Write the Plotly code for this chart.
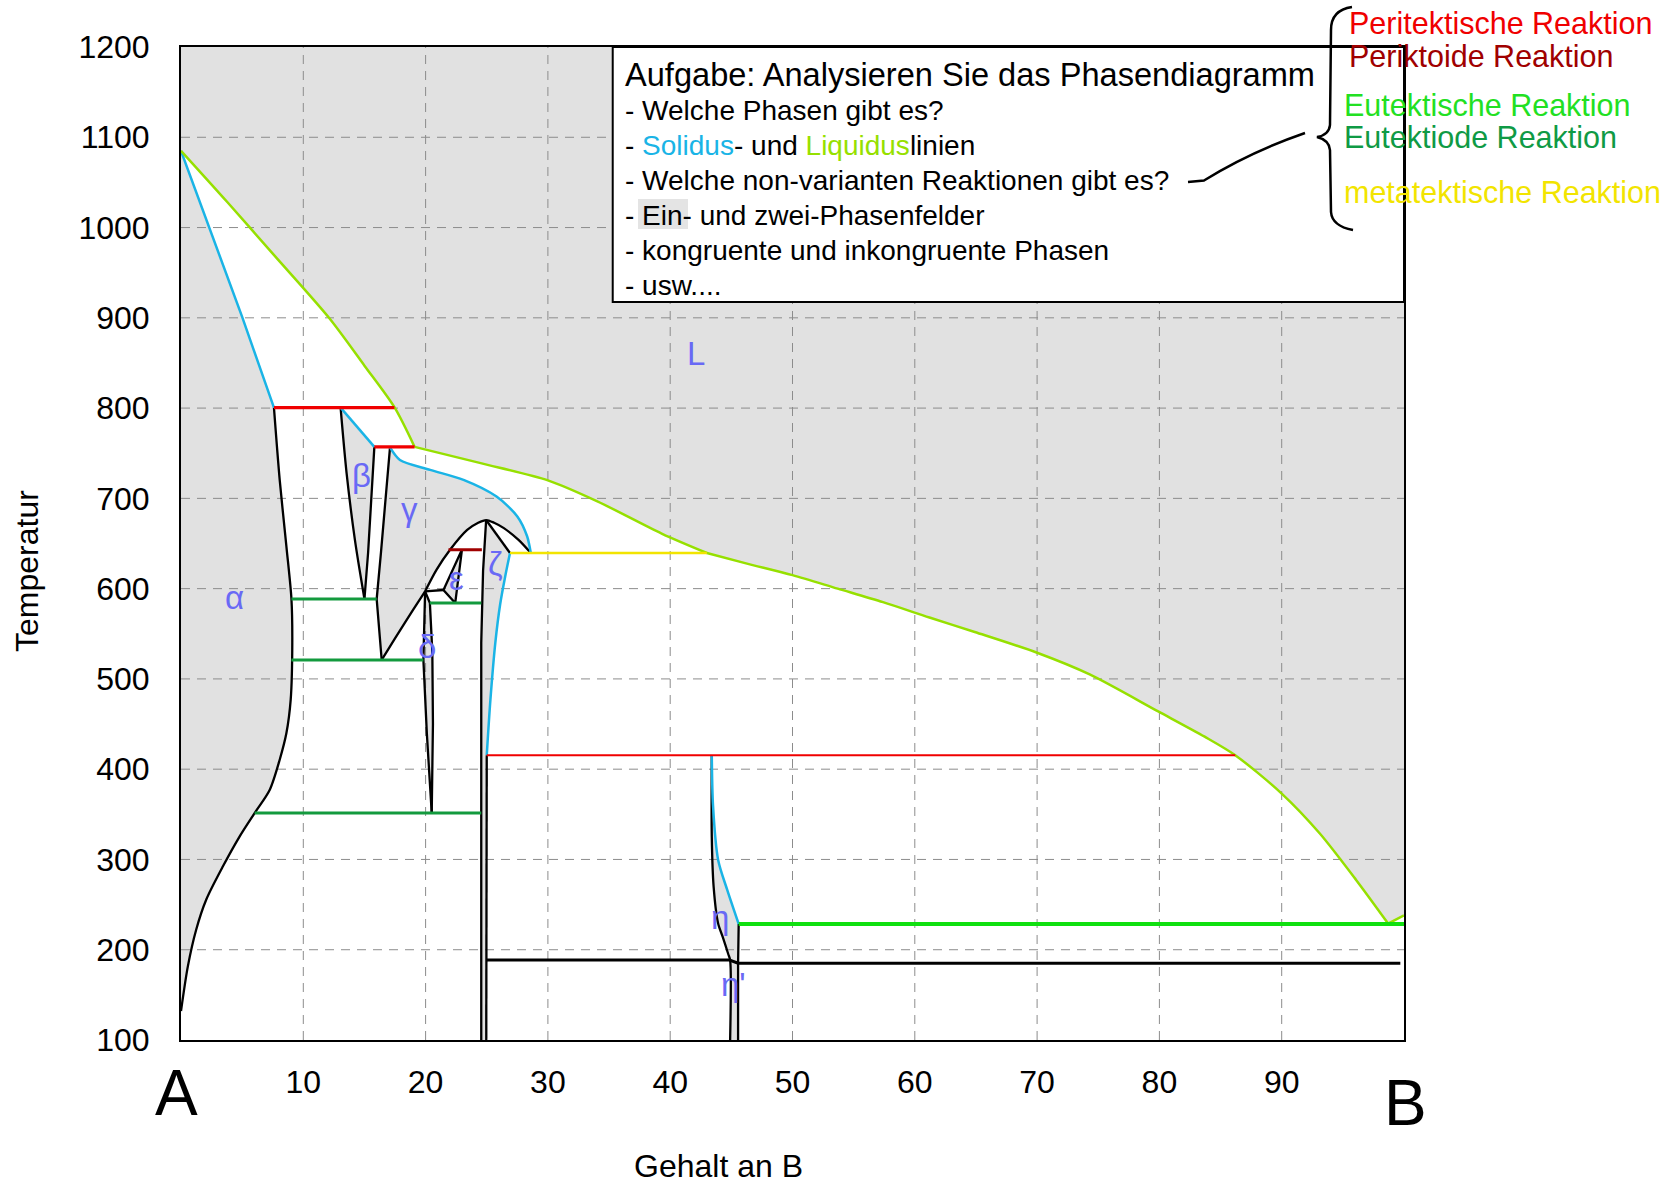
import plotly.graph_objects as go

# ------------------------------------------------------------------ data
x_ticks = [10, 20, 30, 40, 50, 60, 70, 80, 90]
y_ticks = [100, 200, 300, 400, 500, 600, 700, 800, 900, 1000, 1100, 1200]

# liquidus (A side -> metatectic point) and (metatectic point -> B)
liq_a_x = [0.0, 3.8, 7.7, 12.1, 15.0, 17.45, 19.1, 24.5, 30.0, 34.0, 39.3, 43.0]
liq_a_T = [1085, 1028, 968, 900, 847, 801, 757, 739, 720, 697, 661, 639.5]
liq_b_x = [43.0, 46.2, 50.0, 53.7, 57.4, 61.2, 64.9, 70.0, 74.3, 79.9, 83.7, 86.2, 90.0, 93.1, 96.1, 98.7]
liq_b_T = [639.5, 628, 615, 600, 585, 568, 552, 529, 505, 464, 436, 415.5, 373, 329, 277, 229]
liq_B_x = [98.7, 100.0]
liq_B_T = [229, 238]

# solidus lines
sol_alpha_x = [0.0, 2.1, 5.0, 7.6]
sol_alpha_T = [1085, 1008, 901, 800.5]
sol_beta_x = [13.05, 15.81]
sol_beta_T = [800.5, 757]
sol_gamma_x = [17.09, 17.9, 20.37, 23.1, 25.8, 27.5, 28.3, 28.6]
sol_gamma_T = [756.5, 742.6, 731.6, 720.5, 702, 680, 658, 639.5]
sol_zeta_x = [26.9, 26.5, 26.1, 25.7, 25.3, 25.0]
sol_zeta_T = [639.5, 613, 583, 540, 477, 415.5]
sol_eta_x = [43.4, 43.5, 43.92, 44.67, 45.6]
sol_eta_T = [415.5, 360, 299.5, 266, 228.5]

# phase boundaries (black)
alpha_x = [7.6, 8.07, 8.62, 9.03, 9.1, 8.97, 8.62, 8.07, 7.25, 6.02, 4.8, 3.43, 2.06, 1.24, 0.56, 0.0]
alpha_T = [800.5, 720.5, 646.6, 588.5, 540, 477, 440, 410.5, 377, 351.4, 325.6, 292.4, 255.4, 222.2, 181.6, 132]
beta_l_x = [13.05, 13.54, 14.22, 15.0]
beta_l_T = [800.5, 728, 654, 588.5]
beta_r_x = [15.81, 15.55, 15.3, 15.0]
beta_r_T = [757, 700, 640, 588.5]
gamma_l_x = [17.09, 16.75, 16.35, 16.0, 16.41]
gamma_l_T = [756.5, 700, 640, 588.5, 521]
gamma_low_x = [16.41, 17.64, 19.0, 19.96]
gamma_low_T = [521, 548, 577, 597]
dome_x = [19.96, 20.9, 22.0, 23.4, 24.3, 24.95, 25.6, 26.4, 27.6, 28.6]
dome_T = [597, 621, 643, 665, 673, 676, 673, 667, 654, 639.5]
delta_l_x = [19.96, 19.82, 20.1, 20.5]
delta_l_T = [597, 521, 440, 351.4]
delta_r_x = [19.96, 20.35, 20.55, 20.6, 20.5]
delta_r_T = [597, 584, 530, 450, 351.4]
eps_x = [22.97, 21.46, 22.42, 22.97]
eps_T = [643, 598.5, 584, 643]
delta_eps_x = [19.96, 21.46]
delta_eps_T = [597, 598.5]
zeta_l_x = [24.95, 24.7, 24.55, 24.55]
zeta_l_T = [676, 620, 540, 100]
zeta_ru_x = [24.95, 26.9]
zeta_ru_T = [676, 639.5]
zeta_rl_x = [25.0, 24.96]
zeta_rl_T = [415.5, 100]
eta_l_x = [43.4, 43.4, 43.55, 43.92, 44.3, 44.75, 44.9, 44.9]
eta_l_T = [415.5, 325, 270, 229, 214, 195, 188.5, 100]
eta_r_x = [45.6, 45.55, 45.55]
eta_r_T = [228.5, 185, 100]
trans_x = [24.96, 44.85, 45.55, 99.7]
trans_T = [188.5, 188.5, 185, 185]

# invariant reactions (x0, x1, T)
peritectic = [(7.6, 17.45, 800.5), (15.81, 19.1, 757)]
peritectic_low = [(25.0, 86.2, 415.5)]
peritectoid = [(21.87, 24.6, 643)]
metatectic = [(26.9, 43.0, 639.5)]
eutectoid = [(9.03, 16.0, 588.5), (20.35, 24.55, 584), (9.03, 19.82, 521), (6.02, 24.55, 351.4)]
eutectic = [(45.6, 100.0, 228.5)]

# phase labels
phase_names = ["α", "β", "γ", "δ", "ε", "ζ", "L", "η", "η'"]
phase_x = [4.4, 14.75, 18.7, 20.1, 22.55, 25.7, 42.1, 44.1, 45.2]
phase_T = [590, 725, 688, 536, 611, 628, 860, 236, 162]

task_lines = [
    "- Welche Phasen gibt es?",
    "- <span style='color:#1ab4e6'>Solidus</span>- und <span style='color:#96e000'>Liquidus</span>linien",
    "- Welche non-varianten Reaktionen gibt es?",
    "- Ein- und zwei-Phasenfelder",
    "- kongruente und inkongruente Phasen",
    "- usw....",
]
reaction_names = ["Peritektische Reaktion", "Periktoide Reaktion", "Eutektische Reaktion",
                  "Eutektiode Reaktion", "metatektische Reaktion"]

# ------------------------------------------------------------------ styles
GREY = "rgb(225,225,225)"
CYAN = "#1ab4e6"
LIME = "#96e000"
RED = "#f00000"
DRED = "#a00000"
DGREEN = "#139a3e"
BGREEN = "#10e010"
YELLOW = "#f2e400"
LABEL = "rgb(105,105,245)"
FONT = "Liberation Sans, Arial, sans-serif"

W_FIG, H_FIG = 1674, 1183
ML, MR, MT, MB = 181, 270, 47, 143
PW = W_FIG - ML - MR
PH = H_FIG - MT - MB


def pxx(x):
    return (x - ML) / PW


def pxy(y):
    return (H_FIG - MB - y) / PH


fig = go.Figure()


def fill(xs, ys):
    fig.add_trace(go.Scatter(x=xs, y=ys, mode="lines", fill="toself", fillcolor=GREY,
                             line=dict(width=0), hoverinfo="skip", showlegend=False))


def line(xs, ys, color="black", width=2.3, smooth=False):
    fig.add_trace(go.Scatter(x=xs, y=ys, mode="lines",
                             line=dict(color=color, width=width, shape="spline" if smooth else "linear",
                                       smoothing=0.8),
                             hoverinfo="skip", showlegend=False))


# single-phase fields (grey)
fill([0] + liq_a_x + liq_b_x[1:] + liq_B_x[1:] + [100, 0],
     [1200] + liq_a_T + liq_b_T[1:] + liq_B_T[1:] + [1200, 1200])
fill(sol_alpha_x + alpha_x[1:], sol_alpha_T + alpha_T[1:])
fill(beta_l_x + beta_r_x[::-1] + sol_beta_x[::-1], beta_l_T + beta_r_T[::-1] + sol_beta_T[::-1])
fill(sol_gamma_x + dome_x[::-1] + gamma_low_x[::-1] + gamma_l_x[::-1],
     sol_gamma_T + dome_T[::-1] + gamma_low_T[::-1] + gamma_l_T[::-1])
fill(delta_l_x + delta_r_x[::-1], delta_l_T + delta_r_T[::-1])
fill(eps_x, eps_T)
fill(zeta_ru_x + sol_zeta_x + zeta_rl_x + zeta_l_x[::-1],
     zeta_ru_T + sol_zeta_T + zeta_rl_T + zeta_l_T[::-1])
fill(eta_l_x + eta_r_x[::-1] + sol_eta_x[::-1], eta_l_T + eta_r_T[::-1] + sol_eta_T[::-1])

# grid (dashed) drawn above the fills
gx, gy = [], []
for v in x_ticks:
    gx += [v, v, None]
    gy += [y_ticks[0], y_ticks[-1], None]
for v in y_ticks[1:-1]:
    gx += [0, 100, None]
    gy += [v, v, None]
fig.add_trace(go.Scatter(x=gx, y=gy, mode="lines", line=dict(color="rgb(140,140,140)", width=1, dash="9px,7px"),
                         hoverinfo="skip", showlegend=False))

# black phase boundaries
for xs, ys, sm in [(alpha_x, alpha_T, True), (beta_l_x, beta_l_T, True), (beta_r_x, beta_r_T, False),
                   (gamma_l_x, gamma_l_T, False), (gamma_low_x, gamma_low_T, True), (dome_x, dome_T, True),
                   (delta_l_x, delta_l_T, False), (delta_r_x, delta_r_T, False), (eps_x, eps_T, False),
                   (delta_eps_x, delta_eps_T, False), (zeta_l_x, zeta_l_T, False),
                   (zeta_ru_x, zeta_ru_T, False), (zeta_rl_x, zeta_rl_T, False), (eta_l_x, eta_l_T, True),
                   (eta_r_x, eta_r_T, False)]:
    line(xs, ys, smooth=sm)
line(trans_x, trans_T, "black", 3)

# solidus / liquidus
line(sol_alpha_x, sol_alpha_T, CYAN, 2.5)
line(sol_beta_x, sol_beta_T, CYAN, 2.5)
for xs, ys in [(sol_gamma_x, sol_gamma_T), (sol_zeta_x, sol_zeta_T), (sol_eta_x, sol_eta_T)]:
    line(xs, ys, CYAN, 2.5, True)
line(liq_a_x[:7], liq_a_T[:7], LIME, 2.5, True)
line(liq_a_x[6:], liq_a_T[6:], LIME, 2.5, True)
line(liq_b_x, liq_b_T, LIME, 2.5, True)
line(liq_B_x, liq_B_T, LIME, 2.5)

# invariant reaction lines
for lst, col, w in [(peritectic, RED, 3.2), (peritectic_low, RED, 2), (peritectoid, DRED, 3),
                    (metatectic, YELLOW, 2.5), (eutectoid, DGREEN, 3), (eutectic, BGREEN, 4)]:
    for x0, x1, t in lst:
        line([x0, x1], [t, t], col, w)

annotations = []
for n, x, t in zip(phase_names, phase_x, phase_T):
    annotations.append(dict(x=x, y=t, xref="x", yref="y", text=n, showarrow=False,
                            xanchor="center", yanchor="middle",
                            font=dict(size=33, color=LABEL, family=FONT)))

# task box text
annotations.append(dict(x=pxx(623), y=pxy(74.5), xref="paper", yref="paper", xanchor="left", yanchor="middle",
                        text="Aufgabe: Analysieren Sie das Phasendiagramm", showarrow=False,
                        font=dict(size=32.6, color="black", family=FONT)))
for i, s in enumerate(task_lines):
    annotations.append(dict(x=pxx(623), y=pxy(110 + i * 35), xref="paper", yref="paper", xanchor="left",
                            yanchor="middle", text=s, showarrow=False,
                            font=dict(size=28, color="black", family=FONT)))

for s, c, xl, yc in zip(reaction_names, [RED, DRED, "#22e022", "#0f9a45", YELLOW],
                        [1347, 1347, 1342, 1342, 1342], [23.5, 55.5, 104.6, 136.6, 192.2]):
    annotations.append(dict(x=pxx(xl), y=pxy(yc), xref="paper", yref="paper", xanchor="left", yanchor="middle",
                            text=s, showarrow=False, font=dict(size=30.5, color=c, family=FONT)))

# axis letters and titles
for txt, xp, yp, sz, ang in [("A", 176, 1093, 64, 0), ("B", 1405, 1103, 64, 0),
                             ("Gehalt an B", 718, 1166, 32, 0), ("Temperatur", 27, 571, 32, -90)]:
    annotations.append(dict(x=pxx(xp), y=pxy(yp), xref="paper", yref="paper", text=txt, showarrow=False,
                            xanchor="center", yanchor="middle", textangle=ang,
                            font=dict(size=sz, color="black", family=FONT)))


def path(pts):
    out = []
    for cmd, coords in pts:
        s = cmd + " " + " ".join("%.5f,%.5f" % (pxx(a), pxy(b)) for a, b in coords)
        out.append(s)
    return " ".join(out)


shapes = [
    dict(type="rect", xref="x", yref="y", x0=35.3, x1=100, y0=917.6, y1=1200, layer="above",
         fillcolor="white", line=dict(color="black", width=2)),
    dict(type="rect", xref="paper", yref="paper", x0=pxx(638), x1=pxx(688), y0=pxy(229), y1=pxy(199),
         layer="above", fillcolor="rgb(228,228,228)", line=dict(width=0)),
    dict(type="path", xref="paper", yref="paper", layer="above",
         path=path([("M", [(1352, 7)]), ("Q", [(1331, 10), (1331, 30)]), ("L", [(1330, 125)]),
                    ("Q", [(1329, 135), (1317, 137)]), ("Q", [(1329, 140), (1330, 150)]),
                    ("L", [(1331, 212)]), ("Q", [(1332, 226), (1353, 230)])]),
         line=dict(color="black", width=2.5)),
    dict(type="path", xref="paper", yref="paper", layer="above",
         path=path([("M", [(1188, 182)]), ("L", [(1204, 180.5)]), ("Q", [(1250, 152), (1305, 133)])]),
         line=dict(color="black", width=2.5)),
]

fig.update_layout(
    width=W_FIG, height=H_FIG,
    margin=dict(l=ML, r=MR, t=MT, b=MB, autoexpand=False),
    paper_bgcolor="white", plot_bgcolor="white",
    showlegend=False,
    annotations=annotations, shapes=shapes,
    xaxis=dict(range=[0, 100], tickvals=x_ticks, showgrid=False, zeroline=False, showline=True, mirror=True,
               linecolor="black", linewidth=2, ticks="", ticklabelstandoff=13,
               tickfont=dict(size=32, color="black", family=FONT)),
    yaxis=dict(range=[100, 1200], tickvals=y_ticks, showgrid=False, zeroline=False, showline=True, mirror=True,
               linecolor="black", linewidth=2, ticks="", ticklabelstandoff=23,
               tickfont=dict(size=32, color="black", family=FONT)),
)

fig.write_html("out.html")
